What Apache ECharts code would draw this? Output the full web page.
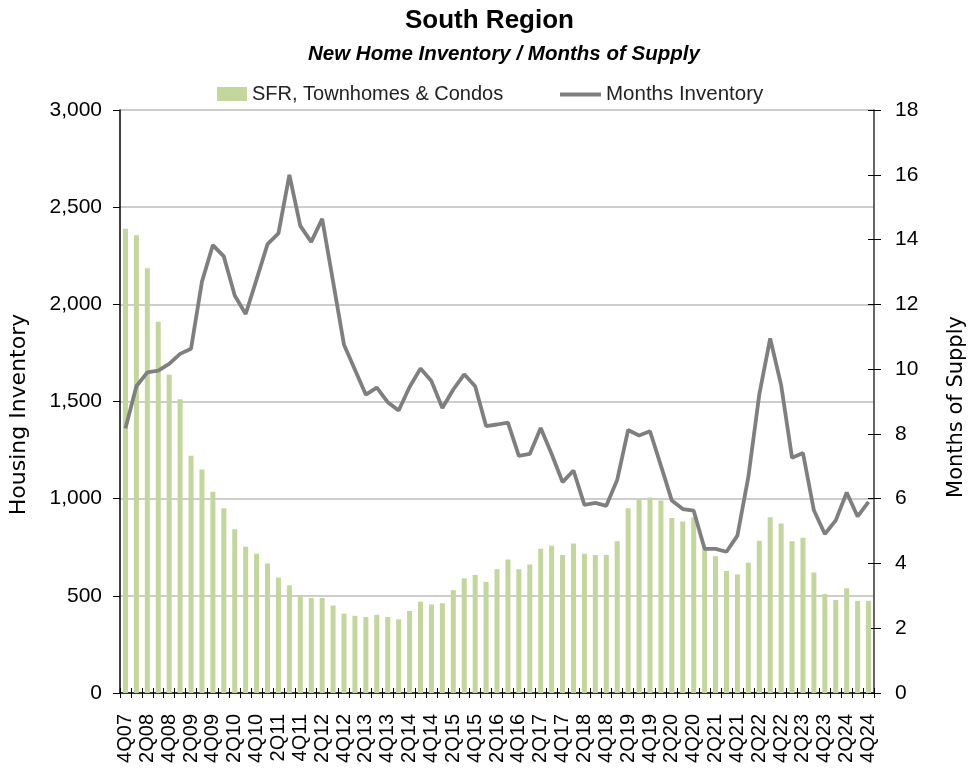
<!DOCTYPE html>
<html>
<head>
<meta charset="utf-8">
<title>South Region</title>
<script src="https://cdn.jsdelivr.net/npm/echarts@6/dist/echarts.min.js"></script>
<style>
  html, body { margin: 0; padding: 0; background: #fff; }
  #chart { width: 971px; height: 769px; }
</style>
</head>
<body>
<div id="chart"></div>
<script>
// quarters, 4Q07 .. 4Q24
const quarters = [
  '4Q07',
  '1Q08', '2Q08', '3Q08', '4Q08',
  '1Q09', '2Q09', '3Q09', '4Q09',
  '1Q10', '2Q10', '3Q10', '4Q10',
  '1Q11', '2Q11', '3Q11', '4Q11',
  '1Q12', '2Q12', '3Q12', '4Q12',
  '1Q13', '2Q13', '3Q13', '4Q13',
  '1Q14', '2Q14', '3Q14', '4Q14',
  '1Q15', '2Q15', '3Q15', '4Q15',
  '1Q16', '2Q16', '3Q16', '4Q16',
  '1Q17', '2Q17', '3Q17', '4Q17',
  '1Q18', '2Q18', '3Q18', '4Q18',
  '1Q19', '2Q19', '3Q19', '4Q19',
  '1Q20', '2Q20', '3Q20', '4Q20',
  '1Q21', '2Q21', '3Q21', '4Q21',
  '1Q22', '2Q22', '3Q22', '4Q22',
  '1Q23', '2Q23', '3Q23', '4Q23',
  '1Q24', '2Q24', '3Q24', '4Q24',
]

// SFR, Townhomes & Condos (units)
const inventory = [
  2389,
  2356, 2186, 1910, 1638,
  1511, 1221, 1150, 1036,
  951, 842, 752, 716,
  667, 594, 554, 505,
  489, 489, 450, 408,
  397, 391, 402, 391,
  379, 422, 470, 456,
  462, 529, 590, 608,
  572, 637, 687, 637,
  661, 742, 758, 710,
  769, 716, 710, 710,
  781, 951, 994, 1006,
  991, 900, 883, 905,
  740, 704, 628, 610,
  670, 783, 905, 872,
  781, 799, 620, 509,
  479, 539, 474, 474,
]

// Months Inventory
const months = [
  8.17,
  9.47, 9.9, 9.95, 10.16,
  10.47, 10.63, 12.7, 13.83,
  13.48, 12.27, 11.7, 12.77,
  13.86, 14.19, 16.0, 14.42,
  13.93, 14.64, 12.7, 10.75,
  9.98, 9.21, 9.43, 8.98,
  8.72, 9.45, 10.02, 9.63,
  8.8, 9.37, 9.84, 9.47,
  8.24, 8.29, 8.35, 7.32,
  7.38, 8.18, 7.38, 6.51,
  6.87, 5.81, 5.87, 5.78,
  6.58, 8.12, 7.95, 8.08,
  7.02, 5.94, 5.68, 5.63,
  4.45, 4.45, 4.36, 4.86,
  6.67, 9.21, 10.95, 9.51,
  7.26, 7.41, 5.64, 4.91,
  5.33, 6.19, 5.45, 5.9,
]

const leftTicks = [0, 500, 1000, 1500, 2000, 2500, 3000]
const rightTicks = [0, 2, 4, 6, 8, 10, 12, 14, 16, 18]

const font = 'Liberation Sans, Arial, sans-serif'
const nameFont = 'DejaVu Sans, sans-serif'

const chart = echarts.init(document.getElementById('chart'))

const option = {
  backgroundColor: '#fff',
  animation: false,
  title: [
    {
      text: 'South Region',
      left: 400,
      top: 3,
      textStyle: { fontFamily: font, fontWeight: 'bold', fontSize: 26, color: '#000' },
    },
    {
      text: 'New Home Inventory / Months of Supply',
      left: 303,
      top: 39,
      textStyle: {
        fontFamily: font,
        fontWeight: 'bold',
        fontStyle: 'italic',
        fontSize: 20.5,
        color: '#000',
      },
    },
  ],
  legend: [
    {
      data: ['SFR, Townhomes & Condos'],
      left: 217,
      top: 84,
      padding: 0,
      icon: 'rect',
      itemWidth: 30,
      itemHeight: 14,
      textStyle: { fontFamily: font, fontSize: 20, color: '#222' },
    },
    {
      data: ['Months Inventory'],
      left: 560,
      top: 84,
      padding: 0,
      icon: 'rect',
      itemWidth: 41,
      itemHeight: 4,
      textStyle: { fontFamily: font, fontSize: 20.5, color: '#222' },
    },
  ],
  grid: {
    left: 120,
    right: 97,
    top: 110,
    bottom: 76,
    containLabel: false,
    outerBoundsMode: 'none',
  },
  xAxis: [
    {
      type: 'category',
      data: quarters,
      boundaryGap: true,
      axisLine: { lineStyle: { color: '#000', width: 1.5 } },
      axisTick: { show: true, interval: 0, length: 5, lineStyle: { color: '#000' } },
      axisLabel: {
        interval: 1,
        rotate: 90,
        margin: 21,
        fontFamily: font,
        fontSize: 20,
        color: '#000',
      },
    },
    {
      // inner half of the crossing ticks
      type: 'category',
      data: quarters,
      position: 'bottom',
      boundaryGap: true,
      axisLine: { show: false },
      axisTick: { show: true, inside: true, interval: 0, length: 5, lineStyle: { color: '#000' } },
      axisLabel: { show: false },
      splitLine: { show: false },
    },
  ],
  yAxis: [
    {
      type: 'value',
      min: leftTicks[0],
      max: leftTicks[leftTicks.length - 1],
      interval: 500,
      name: 'Housing Inventory',
      nameLocation: 'middle',
      nameRotate: 90,
      nameGap: 90,
      nameTextStyle: { fontFamily: nameFont, fontSize: 22, color: '#000', padding: [0, 26, 0, 0] },
      axisLine: { show: true, lineStyle: { color: '#000', width: 1.5 } },
      axisTick: { show: true, length: 7, lineStyle: { color: '#000' } },
      axisLabel: {
        margin: 18,
        fontFamily: font,
        fontSize: 21,
        color: '#000',
        formatter: (v) => v.toLocaleString('en-US'),
      },
      splitLine: { show: true, lineStyle: { color: '#bdbdbd', width: 1.5 } },
    },
    {
      type: 'value',
      position: 'right',
      min: rightTicks[0],
      max: rightTicks[rightTicks.length - 1],
      interval: 2,
      name: 'Months of Supply',
      nameLocation: 'middle',
      nameRotate: 90,
      nameGap: 72,
      nameTextStyle: { fontFamily: nameFont, fontSize: 21, color: '#000', padding: [0, 11, 0, 0] },
      axisLine: { show: true, lineStyle: { color: '#333', width: 1.5 } },
      axisTick: { show: true, length: 7, lineStyle: { color: '#000' } },
      axisLabel: { margin: 21, fontFamily: font, fontSize: 21, color: '#000' },
      splitLine: { show: false },
    },
    {
      // inner half of the right axis ticks
      type: 'value',
      position: 'right',
      min: rightTicks[0],
      max: rightTicks[rightTicks.length - 1],
      interval: 2,
      axisLine: { show: false },
      axisTick: { show: true, inside: true, length: 6, lineStyle: { color: '#000' } },
      axisLabel: { show: false },
      splitLine: { show: false },
    },
  ],
  series: [
    {
      name: 'SFR, Townhomes & Condos',
      type: 'bar',
      yAxisIndex: 0,
      data: inventory,
      barWidth: 5,
      itemStyle: { color: '#c3d69b' },
    },
    {
      name: 'Months Inventory',
      type: 'line',
      yAxisIndex: 1,
      data: months,
      showSymbol: false,
      symbol: 'none',
      lineStyle: { color: '#7f7f7f', width: 3.8 },
      itemStyle: { color: '#7f7f7f' },
      z: 3,
    },
  ],
}

chart.setOption(option)
window.addEventListener('resize', () => chart.resize())
</script>
</body>
</html>
